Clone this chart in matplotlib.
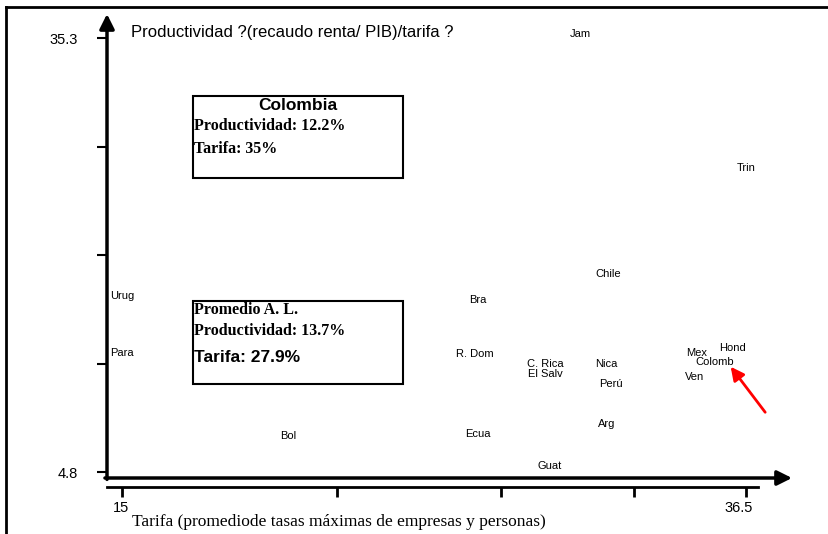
import numpy as np
import matplotlib
matplotlib.use("Agg")
import matplotlib.pyplot as plt
import matplotlib.transforms as mtransforms
from matplotlib.lines import Line2D
from matplotlib.patches import Rectangle
from matplotlib.ticker import NullLocator

plt.rcParams["font.family"] = ["Liberation Sans", "DejaVu Sans"]

# data: tariff (x, log scale) and productivity (y)
countries = ["Jam", "Trin", "Chile", "Urug", "Para", "Bra", "R. Dom", "C. Rica",
             "El Salv", "Nica", "Perú", "Arg", "Ecua", "Guat", "Bol", "Mex",
             "Hond", "Colomb", "Ven"]
tarifa = [28.8, 36.5, 30.0, 15.0, 15.0, 24.9, 24.8, 27.4,
          27.4, 29.9, 30.1, 29.9, 24.9, 27.6, 19.0, 34.0,
          35.8, 34.9, 33.9]
productividad = [35.6, 26.2, 18.7, 17.2, 13.2, 16.9, 13.1, 12.4,
                 11.7, 12.4, 11.0, 8.2, 7.5, 5.2, 7.3, 13.2,
                 13.5, 12.5, 11.5]

x_ticks = [15, 20.375, 25.75, 31.125, 36.5]
x_ticklabels = ["15", "", "", "", "36.5"]
y_ticks = [4.8, 12.425, 20.05, 27.675, 35.3]
y_ticklabels = ["4.8", "", "", "", "35.3"]

colombia_tarifa = 35.0
colombia_prod = 12.2

W, H = 829, 534


def fx(px):
    return px / W


def fy(py):
    return 1 - py / H


fig = plt.figure(figsize=(W / 100, H / 100), dpi=100)

xlim = (14.68, 38.96)
ylim = (4.38, 36.99)

ax = fig.add_axes([fx(107), fy(478), fx(792) - fx(107), fy(14) - fy(478)])
ax.set_xscale("log")
ax.set_xlim(*xlim)
ax.set_ylim(*ylim)
for s in ax.spines.values():
    s.set_visible(False)
ax.patch.set_visible(False)
ax.set_xticks([])
ax.xaxis.set_minor_locator(NullLocator())
ax.set_yticks(y_ticks)
ax.set_yticklabels(y_ticklabels)
ax.tick_params(axis="y", direction="out", length=7, width=1.5, pad=14,
               labelsize=10.5)

# axis arrows
ax.annotate("", xy=(0, 1), xytext=(0, -0.003), xycoords="axes fraction",
            arrowprops=dict(arrowstyle="-|>", lw=2.5, color="k",
                            mutation_scale=22, shrinkA=0, shrinkB=0),
            zorder=5, annotation_clip=False)
ax.annotate("", xy=(1, 0), xytext=(-0.003, 0), xycoords="axes fraction",
            arrowprops=dict(arrowstyle="-|>", lw=2.5, color="k",
                            mutation_scale=22, shrinkA=0, shrinkB=0),
            zorder=5, annotation_clip=False)

for name, x, y in zip(countries, tarifa, productividad):
    ax.text(x, y, name, ha="center", va="center", fontsize=8, zorder=2)

# red arrow to Colombia
ax.annotate("", xy=(colombia_tarifa + 0.7, colombia_prod), xytext=(37.5, 9.0),
            arrowprops=dict(arrowstyle="-|>", lw=2, color="red",
                            mutation_scale=20, shrinkA=0, shrinkB=0),
            annotation_clip=False)

# separate tick baseline under the x arrow
ax2 = fig.add_axes([fx(107), fy(487), fx(792) - fx(107), 0.0001])
ax2.set_xscale("log")
ax2.set_xlim(*xlim)
for side in ["top", "left", "right"]:
    ax2.spines[side].set_visible(False)
ax2.spines["bottom"].set_linewidth(2)
ax2.spines["bottom"].set_bounds(xlim[0], 37.1)
ax2.patch.set_visible(False)
ax2.set_yticks([])
ax2.set_xticks(x_ticks)
ax2.set_xticklabels(x_ticklabels)
ax2.xaxis.set_minor_locator(NullLocator())
ax2.tick_params(axis="x", direction="out", length=7, width=2, pad=3,
                labelsize=10.5)
shift = mtransforms.ScaledTranslation(5 / 72, 0, fig.dpi_scale_trans)
for lab in ax2.get_xticklabels():
    lab.set_horizontalalignment("right")
    lab.set_transform(lab.get_transform() + shift)

# frame lines
fig.add_artist(Line2D([fx(6), 1], [fy(7), fy(7)], lw=2, color="k",
                      transform=fig.transFigure))
fig.add_artist(Line2D([fx(6), fx(6)], [fy(7), 0], lw=2, color="k",
                      transform=fig.transFigure))

fig.text(fx(131), fy(32), "Productividad ?(recaudo renta/ PIB)/tarifa ?",
         fontsize=12, ha="left", va="center")
fig.text(fx(339), fy(522),
         "Tarifa (promediode tasas máximas de empresas y personas)",
         fontsize=12.5, ha="center", va="center", family="Liberation Serif")

# info boxes
for top, bottom in [(96, 178), (301, 384)]:
    fig.add_artist(Rectangle((fx(193), fy(bottom)), fx(403) - fx(193),
                             fy(top) - fy(bottom), fill=False, lw=1.5,
                             edgecolor="k", transform=fig.transFigure))

fig.text(fx(298), fy(106), "Colombia", fontsize=12.5, weight="bold",
         ha="center", va="center")
fig.text(fx(194), fy(126), "Productividad: 12.2%", fontsize=11.5,
         weight="bold", family="Liberation Serif", ha="left", va="center")
fig.text(fx(194), fy(149), "Tarifa: 35%", fontsize=11.5,
         weight="bold", family="Liberation Serif", ha="left", va="center")

fig.text(fx(194), fy(310), "Promedio A. L.", fontsize=11.5,
         weight="bold", family="Liberation Serif", ha="left", va="center")
fig.text(fx(194), fy(331), "Productividad: 13.7%", fontsize=11.5,
         weight="bold", family="Liberation Serif", ha="left", va="center")
fig.text(fx(194), fy(358), "Tarifa: 27.9%", fontsize=12.5, weight="bold",
         ha="left", va="center")

fig.savefig("out.png", dpi=100)
